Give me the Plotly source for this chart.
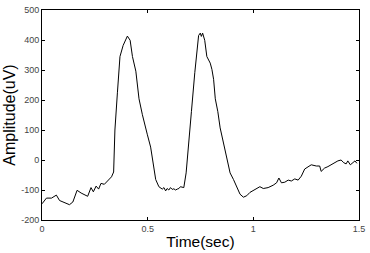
import plotly.graph_objects as go

time_sec = [0.000, 0.021, 0.045, 0.068, 0.083, 0.100, 0.115, 0.130, 0.146, 0.166, 0.185,
            0.205, 0.216, 0.232, 0.243, 0.256, 0.268, 0.279, 0.295, 0.310, 0.329, 0.339,
            0.345, 0.357, 0.369, 0.384, 0.395, 0.404, 0.417, 0.428, 0.444, 0.459, 0.475,
            0.491, 0.498, 0.514, 0.530, 0.538, 0.553, 0.569, 0.577, 0.585, 0.592, 0.600,
            0.608, 0.616, 0.624, 0.632, 0.640, 0.648, 0.655, 0.671, 0.682, 0.694, 0.707,
            0.723, 0.733, 0.741, 0.749, 0.754, 0.760, 0.770, 0.780, 0.796, 0.804, 0.812,
            0.820, 0.832, 0.843, 0.859, 0.874, 0.890, 0.906, 0.921, 0.937, 0.953, 0.969,
            0.984, 1.008, 1.031, 1.047, 1.070, 1.094, 1.110, 1.121, 1.133, 1.149, 1.165,
            1.180, 1.196, 1.212, 1.227, 1.243, 1.259, 1.274, 1.298, 1.314, 1.321, 1.337,
            1.353, 1.368, 1.384, 1.400, 1.415, 1.428, 1.439, 1.447, 1.459, 1.471, 1.481,
            1.490]
amplitude_uv = [-146, -127, -127, -117, -135, -140, -142, -149, -140, -101, -110,
                -117, -121, -92, -106, -87, -97, -78, -81, -70, -56, -40,
                100, 226, 345, 382, 398, 413, 399, 345, 296, 204, 151,
                102, 86, 43, -22, -65, -89, -97, -92, -103, -95, -100,
                -92, -98, -96, -100, -97, -95, -89, -92, -43, 43, 161,
                291, 372, 415, 423, 412, 423, 399, 345, 323, 302, 269,
                204, 161, 107, 54, 0, -43, -65, -87, -114, -124, -119,
                -108, -97, -89, -95, -92, -84, -76, -60, -76, -74, -67,
                -70, -63, -67, -54, -30, -22, -16, -20, -20, -38, -27,
                -22, -16, -9, -3, 0, -9, -13, -3, -16, -9, -3,
                -11]

x_ticks = [0, 0.5, 1, 1.5]
x_tick_labels = ["0", "0.5", "1", "1.5"]
y_ticks = [-200, -100, 0, 100, 200, 300, 400, 500]
y_tick_labels = ["-200", "-100", "0", "100", "200", "300", "400", "500"]

fig = go.Figure()
fig.add_trace(go.Scatter(x=time_sec, y=amplitude_uv, mode="lines",
                         line=dict(color="black", width=1), showlegend=False))

axis_common = dict(showline=True, linecolor="black", linewidth=1, mirror="ticks",
                   ticks="inside", ticklen=3, tickcolor="black", showgrid=False,
                   zeroline=False,
                   tickfont=dict(family="Liberation Sans, Arial", size=9, color="#444444"))

fig.update_layout(
    width=370, height=253,
    margin=dict(l=42, r=9, t=5, b=31),
    paper_bgcolor="white", plot_bgcolor="white",
    xaxis=dict(range=[0, 1.5], tickvals=x_ticks, ticktext=x_tick_labels,
               title=dict(text="Time(sec)", standoff=3,
                          font=dict(family="Liberation Sans, Arial", size=15.5, color="black")),
               **axis_common),
    yaxis=dict(range=[-200, 500], tickvals=y_ticks, ticktext=y_tick_labels,
               title=dict(text="Amplitude(uV)", standoff=1,
                          font=dict(family="Liberation Sans, Arial", size=16, color="black")),
               **axis_common),
)

fig.write_html("out.html")
